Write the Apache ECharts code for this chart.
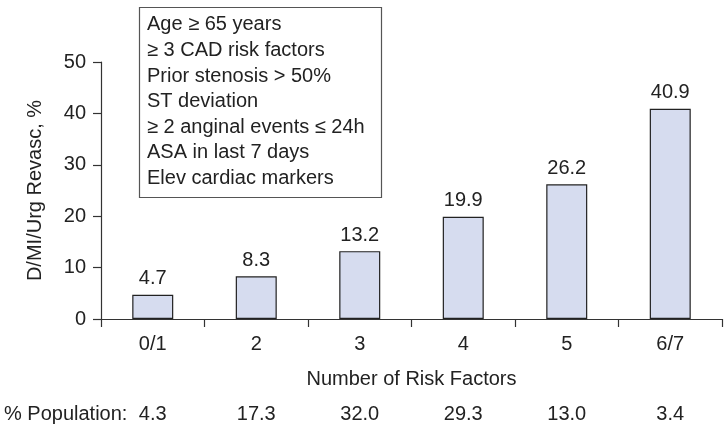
<!DOCTYPE html>
<html>
<head>
<meta charset="utf-8">
<script src="https://cdn.jsdelivr.net/npm/echarts@6/dist/echarts.min.js"></script>
<style>
html,body{margin:0;padding:0;background:#fff;}
#c{width:725px;height:427px;}
</style>
</head>
<body>
<div id="c"></div>
<script>
var categories = ['0/1', '2', '3', '4', '5', '6/7'];
var eventRates = [4.7, 8.3, 13.2, 19.9, 26.2, 40.9];
var populationPct = ['4.3', '17.3', '32.0', '29.3', '13.0', '3.4'];
var yTicks = [0, 10, 20, 30, 40, 50];
var riskFactorList = [
  'Age \u2265 65 years',
  '\u2265 3 CAD risk factors',
  'Prior stenosis > 50%',
  'ST deviation',
  '\u2265 2 anginal events \u2264 24h',
  'ASA in last 7 days',
  'Elev cardiac markers'
];

var FONT = 'Liberation Sans, Arial, Helvetica, sans-serif';
var FS = 20;
var TXT = '#222';
var chart = echarts.init(document.getElementById('c'), null, {renderer: 'canvas'});
chart.setOption({
  animation: false,
  backgroundColor: '#fff',
  textStyle: {fontFamily: FONT, color: TXT},
  grid: {left: 101, right: 3, top: 62, bottom: 108, containLabel: false},
  xAxis: [{
    type: 'category',
    data: categories,
    position: 'bottom',
    axisLine: {show: true, lineStyle: {color: '#333', width: 1.2}},
    axisTick: {show: true, length: 8, alignWithLabel: false, lineStyle: {color: '#333', width: 1.2}},
    axisLabel: {fontSize: FS, color: TXT, margin: 15, fontFamily: FONT},
    name: 'Number of Risk Factors',
    nameLocation: 'middle',
    nameGap: 50,
    nameTextStyle: {fontSize: FS, color: TXT, fontFamily: FONT}
  }, {
    type: 'category',
    data: populationPct,
    position: 'bottom',
    axisLine: {show: false},
    axisTick: {show: false},
    splitLine: {show: false},
    axisLabel: {fontSize: FS, color: TXT, margin: 85, fontFamily: FONT}
  }],
  yAxis: {
    type: 'value',
    min: yTicks[0],
    max: yTicks[yTicks.length - 1],
    interval: 10,
    splitLine: {show: false},
    axisLine: {show: true, lineStyle: {color: '#333', width: 1.2}},
    axisTick: {show: true, length: 8, lineStyle: {color: '#333', width: 1.2}},
    axisLabel: {fontSize: FS, color: TXT, margin: 15, fontFamily: FONT},
    name: 'D/MI/Urg Revasc, %',
    nameLocation: 'middle',
    nameGap: 56,
    nameTextStyle: {fontSize: FS, color: TXT, fontFamily: FONT}
  },
  series: [{
    type: 'bar',
    data: eventRates,
    xAxisIndex: 0,
    barWidth: 41,
    itemStyle: {color: '#d6dcef', borderColor: '#222', borderWidth: 1.2},
    label: {show: true, position: 'top', distance: 6, fontSize: FS, color: TXT, fontFamily: FONT}
  }],
  graphic: [
    {
      type: 'text',
      left: 4,
      top: 404,
      style: {text: '% Population:', font: FS + 'px ' + FONT, fill: TXT}
    },
    {
      type: 'rect',
      shape: {x: 139.5, y: 7.5, width: 242, height: 190},
      style: {fill: '#fff', stroke: '#555', lineWidth: 1.2}
    },
    {
      type: 'text',
      x: 147,
      y: 12,
      style: {
        text: riskFactorList.join('\n'),
        font: FS + 'px ' + FONT,
        fill: TXT,
        lineHeight: 25.6
      }
    }
  ]
});
</script>
</body>
</html>
